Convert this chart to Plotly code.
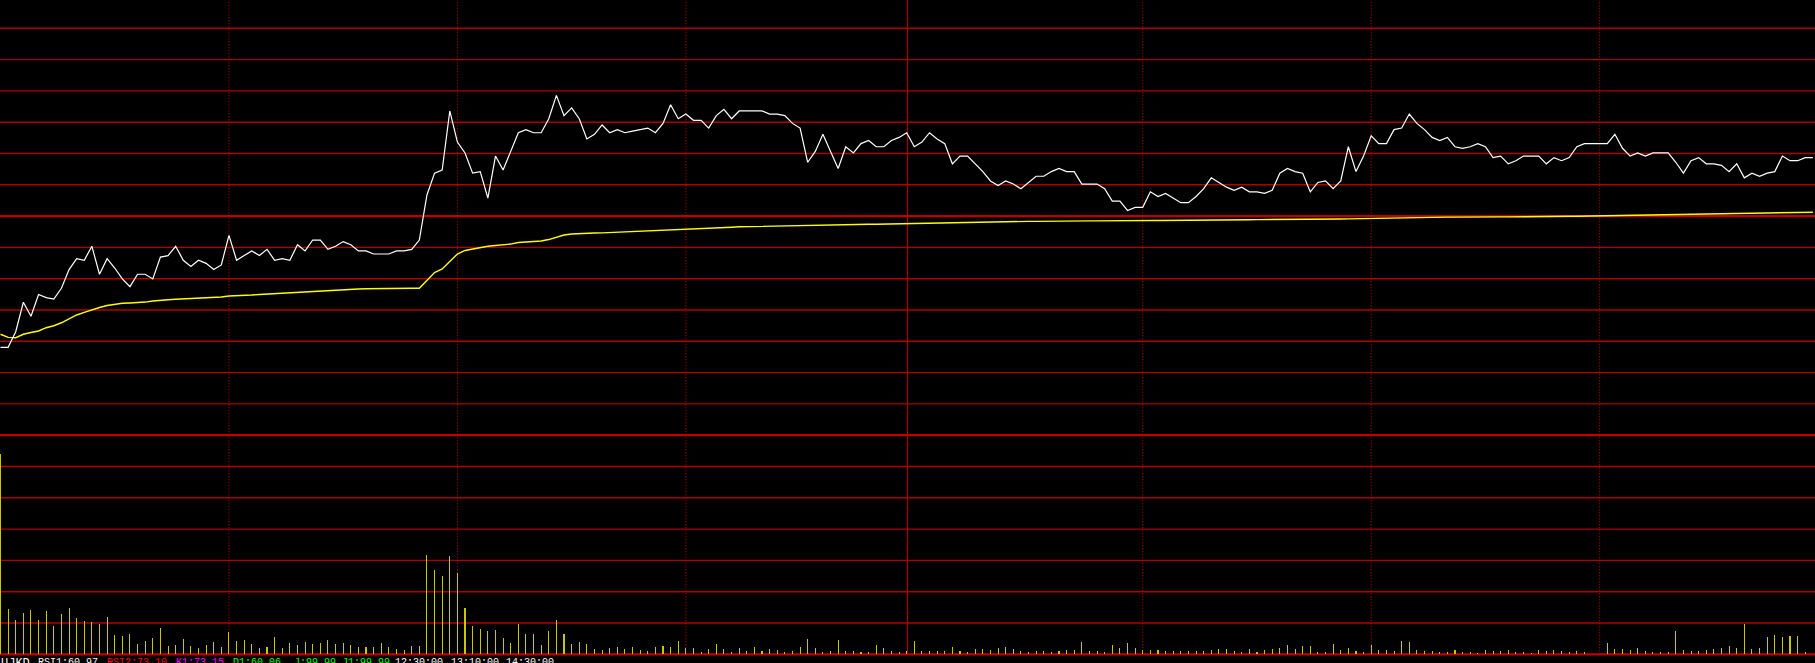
import plotly.graph_objects as go

W, H = 1815, 663

# ---- data (1-minute intraday) ----
minutes = list(range(239))

price = [
    19.16, 19.16, 19.26, 19.45, 19.36, 19.50, 19.48, 19.47, 19.54, 19.66,
    19.73, 19.72, 19.81, 19.63, 19.73, 19.67, 19.60, 19.55, 19.63, 19.63,
    19.60, 19.74, 19.75, 19.81, 19.72, 19.68, 19.72, 19.70, 19.66, 19.69,
    19.88, 19.72, 19.75, 19.78, 19.75, 19.79, 19.72, 19.73, 19.72, 19.82,
    19.78, 19.85, 19.85, 19.79, 19.81, 19.84, 19.82, 19.78, 19.78, 19.76,
    19.76, 19.76, 19.78, 19.78, 19.79, 19.85, 20.14, 20.28, 20.30, 20.68,
    20.48, 20.41, 20.28, 20.29, 20.12, 20.39, 20.30, 20.42, 20.54, 20.56,
    20.54, 20.54, 20.63, 20.78, 20.65, 20.70, 20.63, 20.50, 20.53, 20.59,
    20.54, 20.56, 20.54, 20.55, 20.56, 20.57, 20.54, 20.60, 20.72, 20.63,
    20.66, 20.62, 20.62, 20.57, 20.65, 20.69, 20.63, 20.68, 20.68, 20.68,
    20.68, 20.66, 20.66, 20.65, 20.60, 20.57, 20.35, 20.42, 20.53, 20.42,
    20.31, 20.45, 20.41, 20.47, 20.49, 20.45, 20.45, 20.49, 20.51, 20.54,
    20.45, 20.48, 20.54, 20.50, 20.47, 20.34, 20.39, 20.39, 20.34, 20.29,
    20.23, 20.20, 20.23, 20.21, 20.18, 20.22, 20.26, 20.26, 20.29, 20.31,
    20.29, 20.29, 20.21, 20.21, 20.21, 20.18, 20.10, 20.10, 20.04, 20.06,
    20.06, 20.16, 20.13, 20.15, 20.12, 20.09, 20.09, 20.13, 20.18, 20.25,
    20.22, 20.19, 20.17, 20.19, 20.16, 20.16, 20.15, 20.17, 20.28, 20.31,
    20.29, 20.28, 20.16, 20.22, 20.23, 20.18, 20.23, 20.45, 20.29, 20.39,
    20.52, 20.47, 20.47, 20.56, 20.57, 20.66, 20.60, 20.56, 20.51, 20.49,
    20.51, 20.45, 20.44, 20.45, 20.47, 20.45, 20.38, 20.39, 20.34, 20.36,
    20.39, 20.39, 20.39, 20.34, 20.38, 20.36, 20.38, 20.45, 20.47, 20.47,
    20.47, 20.47, 20.53, 20.44, 20.39, 20.41, 20.39, 20.41, 20.41, 20.41,
    20.35, 20.28, 20.36, 20.38, 20.34, 20.34, 20.33, 20.29, 20.34, 20.25,
    20.28, 20.26, 20.28, 20.29, 20.39, 20.36, 20.36, 20.38, 20.38,
]

avg_price = [
    19.244, 19.224, 19.222, 19.244, 19.255, 19.265, 19.286, 19.299, 19.318, 19.345,
    19.368, 19.385, 19.403, 19.416, 19.429, 19.437, 19.443, 19.445, 19.446, 19.451,
    19.458, 19.464, 19.466, 19.469, 19.471, 19.474, 19.476, 19.477, 19.479, 19.484,
    19.490, 19.491, 19.495, 19.496, 19.500, 19.503, 19.506, 19.508, 19.509, 19.511,
    19.516, 19.520, 19.522, 19.525, 19.529, 19.532, 19.533, 19.535, 19.537, 19.538,
    19.540, 19.540, 19.540, 19.540, 19.540, 19.540, 19.593, 19.641, 19.664, 19.715,
    19.760, 19.783, 19.792, 19.802, 19.810, 19.815, 19.820, 19.824, 19.834, 19.837,
    19.842, 19.844, 19.853, 19.868, 19.882, 19.889, 19.892, 19.894, 19.895, 19.896,
    19.898, 19.900, 19.902, 19.904, 19.905, 19.907, 19.908, 19.913, 19.916, 19.918,
    19.920, 19.921, 19.923, 19.925, 19.927, 19.929, 19.932, 19.935, 19.936, 19.938,
    19.939, 19.940, 19.941, 19.943, 19.945, 19.946, 19.947, 19.948, 19.949, 19.949,
    19.950, 19.950, 19.951, 19.951, 19.951, 19.951, 19.952, 19.953, 19.954, 19.956,
    19.958, 19.958, 19.959, 19.961, 19.963, 19.964, 19.965, 19.965, 19.966, 19.966,
    19.967, 19.967, 19.968, 19.968, 19.969, 19.970, 19.970, 19.971, 19.971, 19.972,
    19.972, 19.972, 19.973, 19.973, 19.973, 19.974, 19.974, 19.974, 19.975, 19.975,
    19.975, 19.976, 19.976, 19.976, 19.977, 19.977, 19.978, 19.978, 19.978, 19.979,
    19.979, 19.979, 19.980, 19.980, 19.980, 19.981, 19.981, 19.981, 19.982, 19.982,
    19.982, 19.983, 19.983, 19.984, 19.984, 19.985, 19.985, 19.986, 19.987, 19.987,
    19.988, 19.989, 19.990, 19.992, 19.994, 19.996, 19.996, 19.997, 19.997, 19.997,
    19.997, 19.997, 19.998, 19.998, 19.998, 19.998, 19.999, 19.999, 19.999, 20.000,
    20.000, 20.000, 20.001, 20.001, 20.002, 20.002, 20.003, 20.003, 20.004, 20.004,
    20.005, 20.005, 20.006, 20.006, 20.007, 20.008, 20.009, 20.010, 20.011, 20.012,
    20.013, 20.014, 20.015, 20.016, 20.016, 20.017, 20.018, 20.018, 20.019, 20.020,
    20.021, 20.022, 20.023, 20.024, 20.025, 20.026, 20.028, 20.028, 20.029,
]

volume = [
    6440, 1447, 1103, 1328, 1424, 1103, 1392, 910, 1296, 1489,
    1167, 1071, 1038, 974, 1199, 620, 588, 653, 331, 428,
    524, 846, 267, 299, 492, 267, 203, 299, 395, 235,
    717, 428, 460, 331, 203, 235, 556, 203, 363, 299,
    395, 331, 363, 460, 331, 363, 299, 235, 235, 235,
    363, 235, 170, 138, 267, 267, 3193, 2710, 2517, 3160,
    2614, 1489, 910, 813, 749, 781, 524, 363, 974, 653,
    653, 299, 749, 1103, 653, 331, 395, 331, 170, 138,
    203, 235, 170, 235, 138, 106, 235, 267, 235, 428,
    203, 203, 74, 170, 331, 170, 74, 203, 106, 235,
    106, 170, 138, 74, 106, 235, 492, 203, 74, 106,
    460, 106, 106, 74, 74, 299, 195, 100, 70, 100,
    418, 100, 100, 100, 100, 225, 100, 70, 160, 160,
    130, 195, 225, 160, 100, 70, 100, 100, 70, 100,
    130, 130, 386, 100, 100, 70, 290, 195, 354, 195,
    130, 130, 130, 100, 100, 100, 100, 100, 100, 130,
    160, 160, 100, 70, 160, 70, 130, 160, 195, 290,
    160, 267, 267, 74, 74, 331, 138, 203, 106, 74,
    299, 138, 138, 106, 428, 395, 138, 106, 106, 74,
    74, 138, 74, 74, 42, 138, 106, 106, 138, 74,
    74, 42, 138, 106, 138, 106, 74, 106, 74, 0,
    0, 363, 170, 170, 138, 203, 106, 74, 74, 74,
    749, 138, 106, 106, 138, 170, 203, 267, 203, 974,
    170, 203, 556, 620, 556, 588, 588, 74, 0,
]

status_labels = ["UJKD", "RSI1:60.97", "RSI2:73.10", "K1:73.15", "D1:60.06",
                 "J:99.99", "J1:99.99", "12:30:00", "13:10:00", "14:30:00"]
status_colors = ["#ffffff", "#ffffff", "#ff0000", "#ff00ff", "#00ff00",
                 "#00ff00", "#00ff00", "#ffffff", "#ffffff", "#ffffff"]
status_x_px = [0, 36.7, 106, 174.5, 232, 292.7, 340.6, 394, 449.6, 505]
status_size = [12, 10, 10, 10, 10, 10, 10, 10, 10, 10]

PREV_CLOSE = 20.00

# ---- layout geometry (pixels) ----
PX_PER_MIN = 7.615
X_OFF = 0.5
PX_PER_PRICE = 155.5
CLOSE_Y = 216.7
VOL_BASE_Y = 654.3
VOL_PER_PX = 32.15

x_range = [(0 - X_OFF) / PX_PER_MIN, (W - X_OFF) / PX_PER_MIN]
p_range = [PREV_CLOSE - (H - CLOSE_Y) / PX_PER_PRICE, PREV_CLOSE + CLOSE_Y / PX_PER_PRICE]
v_range = [-(H - VOL_BASE_Y) * VOL_PER_PX, VOL_BASE_Y * VOL_PER_PX]

fig = go.Figure()
fig.add_trace(go.Bar(
    x=minutes, y=volume, yaxis="y2", width=0.14,
    marker=dict(color="#c8c800", line=dict(width=0)), hoverinfo="skip",
))
fig.add_trace(go.Scatter(
    x=minutes, y=avg_price, mode="lines",
    line=dict(color="#ffff00", width=1.4), hoverinfo="skip",
))
fig.add_trace(go.Scatter(
    x=minutes, y=price, mode="lines",
    line=dict(color="#ffffff", width=1.2), hoverinfo="skip",
))

shapes = []
# horizontal red grid lines
for k in range(21):
    ypx = 28.3 + 31.3 * k
    thick = k in (6, 13, 20)
    yp = 1 - ypx / H
    shapes.append(dict(type="line", xref="paper", yref="paper", x0=0, x1=1, y0=yp, y1=yp,
                       layer="below",
                       line=dict(color="#c00000" if thick else "#b00000", width=2.2 if thick else 1.4)))
# vertical time lines
ybot = 1 - VOL_BASE_Y / H
for m in [30, 60, 90, 150, 180, 210]:
    shapes.append(dict(type="line", xref="x", yref="paper", x0=m, x1=m, y0=ybot, y1=1,
                       layer="below", line=dict(color="#d00000", width=1, dash="1px,2px")))
shapes.append(dict(type="line", xref="x", yref="paper", x0=119.1, x1=119.1, y0=ybot, y1=1,
                   layer="below", line=dict(color="#b00000", width=1.2)))

annotations = []
for lab, col, xp, sz in zip(status_labels, status_colors, status_x_px, status_size):
    annotations.append(dict(text=lab, xref="paper", yref="paper", x=xp / W, y=1 - 656.0 / H,
                            xanchor="left", yanchor="top", showarrow=False, borderpad=0,
                            font=dict(family="Liberation Mono, DejaVu Sans Mono, monospace",
                                      size=sz, color=col)))

fig.update_layout(
    width=W, height=H, margin=dict(l=0, r=0, t=0, b=0),
    paper_bgcolor="#000000", plot_bgcolor="#000000",
    showlegend=False, bargap=0,
    xaxis=dict(range=x_range, visible=False, showgrid=False, zeroline=False, fixedrange=True),
    yaxis=dict(range=p_range, visible=False, showgrid=False, zeroline=False, domain=[0, 1]),
    yaxis2=dict(range=v_range, visible=False, showgrid=False, zeroline=False,
                overlaying="y", domain=[0, 1]),
    shapes=shapes, annotations=annotations,
)

fig.write_html("out.html", config={"displayModeBar": False, "staticPlot": True},
               post_script="document.body.style.margin='0';document.body.style.overflow='hidden';")
